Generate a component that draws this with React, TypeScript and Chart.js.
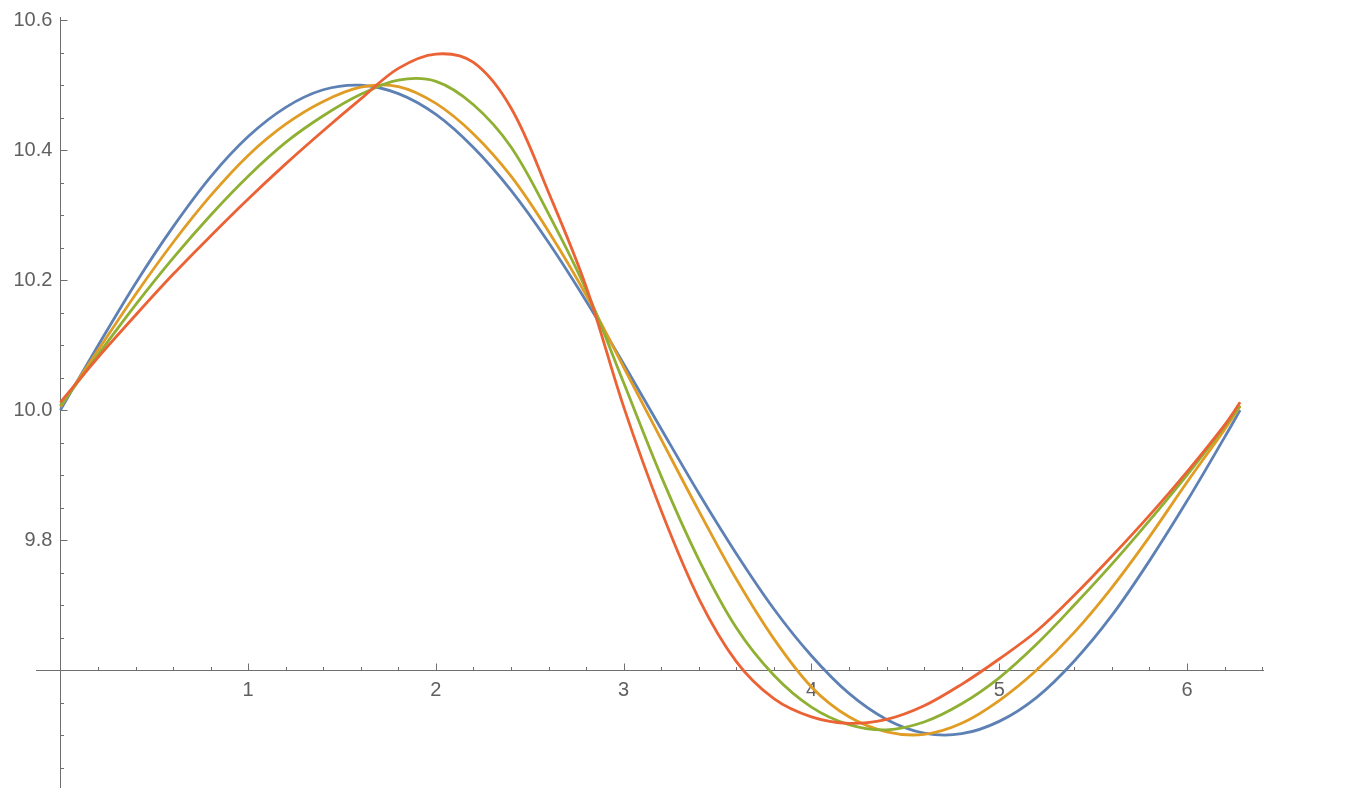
import React, { useEffect, useRef } from "react";
import { Chart, registerables } from "chart.js";

Chart.register(...registerables);

// ---- data ----
const xValues = [
  0, 0.2, 0.4, 0.6, 0.8, 1.0, 1.2, 1.4, 1.6, 1.8, 2.0, 2.2, 2.4, 2.6, 2.8, 3.0,
  3.2, 3.4, 3.6, 3.8, 4.0, 4.2, 4.4, 4.6, 4.8, 5.0, 5.2, 5.4, 5.6, 5.8, 6.0, 6.2, 6.2832,
];

const blueSeries = [
  10.0, 10.099, 10.195, 10.282, 10.359, 10.421, 10.466, 10.493, 10.5, 10.487, 10.455,
  10.404, 10.338, 10.258, 10.168, 10.071, 9.971, 9.872, 9.779, 9.694, 9.622, 9.564,
  9.524, 9.503, 9.502, 9.521, 9.558, 9.614, 9.684, 9.768, 9.86, 9.958, 10.0,
];

const orangeSeries = [
  10.005, 10.092, 10.178, 10.258, 10.33, 10.392, 10.44, 10.475, 10.497, 10.498, 10.472,
  10.425, 10.36, 10.275, 10.177, 10.066, 9.955, 9.845, 9.74, 9.648, 9.574, 9.528,
  9.505, 9.501, 9.518, 9.553, 9.6, 9.658, 9.727, 9.805, 9.889, 9.97, 10.006,
];

const greenSeries = [
  10.007, 10.085, 10.162, 10.234, 10.3, 10.36, 10.412, 10.453, 10.486, 10.508, 10.506,
  10.47, 10.405, 10.302, 10.185, 10.042, 9.898, 9.77, 9.665, 9.592, 9.543, 9.516,
  9.508, 9.52, 9.548, 9.588, 9.64, 9.7, 9.763, 9.83, 9.9, 9.975, 10.007,
];

const redSeries = [
  10.012, 10.081, 10.146, 10.209, 10.268, 10.325, 10.379, 10.43, 10.479, 10.526, 10.548,
  10.535, 10.465, 10.335, 10.19, 10.005, 9.845, 9.71, 9.613, 9.556, 9.528, 9.518,
  9.524, 9.545, 9.578, 9.617, 9.66, 9.715, 9.775, 9.838, 9.905, 9.977, 10.012,
];

const xTickValues = [1, 2, 3, 4, 5, 6];
const yTickValues = [9.8, 10.0, 10.2, 10.4, 10.6];

const X_MIN = -0.13;
const X_MAX = 6.405;
const Y_MIN = 9.42;
const Y_MAX = 10.605;
const Y_ORIGIN = 9.6;

const AXIS_COLOR = "#6f6f6f";
const LABEL_COLOR = "#606060";
const FONT_FAMILY = "'Liberation Sans', Arial, Helvetica, sans-serif";

const zeroPadding = (scale: any) => {
  scale.paddingTop = 0;
  scale.paddingBottom = 0;
  scale.paddingLeft = 0;
  scale.paddingRight = 0;
};

const mmaTicks = {
  id: "mmaTicks",
  beforeDatasetsDraw(chart: any) {
    const { ctx } = chart;
    const xs = chart.scales.x;
    const ys = chart.scales.y;
    const y0 = Math.round(ys.getPixelForValue(Y_ORIGIN)) + 0.5;
    const x0 = Math.round(xs.getPixelForValue(0)) + 0.5;
    ctx.save();
    ctx.strokeStyle = AXIS_COLOR;
    ctx.lineWidth = 1;
    ctx.beginPath();
    for (let k = 1; k * 0.2 <= xs.max + 1e-9; k++) {
      const px = Math.round(xs.getPixelForValue(k * 0.2)) + 0.5;
      const len = k % 5 === 0 ? 7 : 3.5;
      ctx.moveTo(px, y0);
      ctx.lineTo(px, y0 - len);
    }
    const kStart = Math.ceil(ys.min / 0.05 - 1e-6);
    for (let k = kStart; k * 0.05 <= ys.max + 1e-9; k++) {
      const v = k * 0.05;
      if (Math.abs(v - Y_ORIGIN) < 1e-6) continue;
      const py = Math.round(ys.getPixelForValue(v)) + 0.5;
      const len = k % 4 === 0 ? 7 : 3.5;
      ctx.moveTo(x0, py);
      ctx.lineTo(x0 + len, py);
    }
    ctx.stroke();
    ctx.restore();
  },
};

function makeDataset(label: string, values: number[], color: string, order: number) {
  return {
    label,
    data: xValues.map((x, i) => ({ x, y: values[i] })),
    borderColor: color,
    backgroundColor: color,
    borderWidth: 2.8,
    pointRadius: 0,
    fill: false,
    tension: 0.35,
    order,
    yAxisID: "y",
    xAxisID: "x",
  };
}

export default function App() {
  const canvasRef = useRef<HTMLCanvasElement | null>(null);

  useEffect(() => {
    const canvas = canvasRef.current;
    if (!canvas) return;
    const labelFont = { family: FONT_FAMILY, size: 20 };
    const chart = new Chart(canvas, {
      type: "line",
      data: {
        datasets: [
          makeDataset("s1", blueSeries, "#5E81B5", 4),
          makeDataset("s2", orangeSeries, "#E19C24", 3),
          makeDataset("s3", greenSeries, "#8FB032", 2),
          makeDataset("s4", redSeries, "#EB6235", 1),
        ] as any,
      },
      options: {
        animation: false,
        responsive: false,
        events: [],
        layout: { padding: { left: 36, right: 83, top: 17, bottom: 7 } },
        plugins: {
          legend: { display: false },
          tooltip: { enabled: false },
        },
        scales: {
          x: {
            type: "linear",
            min: X_MIN,
            max: X_MAX,
            position: { y: Y_ORIGIN } as any,
            grid: { display: false, drawTicks: false },
            border: { display: true, color: AXIS_COLOR, width: 1 },
            afterBuildTicks: (scale: any) => {
              scale.ticks = xTickValues.map((v) => ({ value: v }));
            },
            afterFit: zeroPadding,
            ticks: {
              color: LABEL_COLOR,
              font: labelFont,
              padding: 8,
              maxRotation: 0,
              autoSkip: false,
              callback: (v: any) => String(v),
            },
          },
          y: {
            type: "linear",
            min: Y_MIN,
            max: Y_MAX,
            position: { x: 0 } as any,
            grid: { display: false, drawTicks: false },
            border: { display: true, color: AXIS_COLOR, width: 1 },
            afterBuildTicks: (scale: any) => {
              scale.ticks = yTickValues.map((v) => ({ value: v }));
            },
            afterFit: zeroPadding,
            ticks: { display: false },
          },
          yLabels: {
            type: "linear",
            axis: "y",
            min: Y_MIN,
            max: Y_MAX,
            position: { x: -0.0426 } as any,
            grid: { display: false, drawTicks: false },
            border: { display: false },
            afterBuildTicks: (scale: any) => {
              scale.ticks = yTickValues.map((v) => ({ value: v }));
            },
            afterFit: zeroPadding,
            ticks: {
              color: LABEL_COLOR,
              font: labelFont,
              padding: 0,
              autoSkip: false,
              callback: (v: any) => Number(v).toFixed(1),
            },
          },
        },
      } as any,
      plugins: [mmaTicks],
    });
    return () => chart.destroy();
  }, []);

  return (
    <div
      style={{
        position: "fixed",
        left: 0,
        top: 0,
        width: 1346,
        height: 794,
        background: "#ffffff",
      }}
    >
      <canvas ref={canvasRef} width={1346} height={794} style={{ display: "block" }} />
    </div>
  );
}
